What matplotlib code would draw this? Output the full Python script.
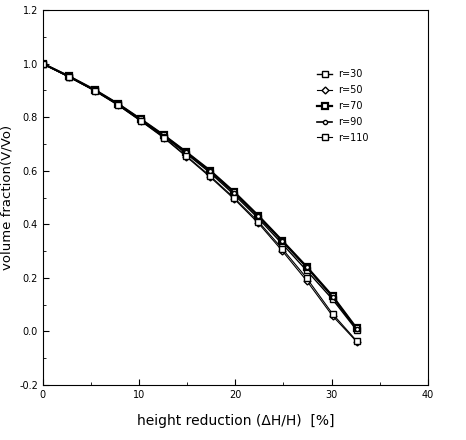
import matplotlib
matplotlib.use("Agg")
import matplotlib.pyplot as plt
from matplotlib.ticker import MultipleLocator, FuncFormatter

# height reduction (%) and volume fraction for each r
reduction = [0, 2.7, 5.4, 7.8, 10.2, 12.6, 14.9, 17.4, 19.9, 22.4, 24.9, 27.4, 30.1, 32.6]
r30 = [1.0, 0.952, 0.90, 0.848, 0.788, 0.728, 0.664, 0.592, 0.510, 0.422, 0.326, 0.228, 0.120, 0.005]
r50 = [1.0, 0.950, 0.898, 0.845, 0.785, 0.722, 0.653, 0.576, 0.494, 0.404, 0.300, 0.190, 0.058, -0.038]
r70 = [1.0, 0.953, 0.902, 0.850, 0.792, 0.732, 0.670, 0.600, 0.520, 0.432, 0.338, 0.242, 0.132, 0.012]
r90 = [1.0, 0.953, 0.901, 0.850, 0.791, 0.731, 0.669, 0.598, 0.518, 0.430, 0.336, 0.240, 0.130, 0.010]
r110 = [1.0, 0.951, 0.899, 0.846, 0.786, 0.724, 0.656, 0.580, 0.498, 0.410, 0.308, 0.200, 0.066, -0.035]
labels = ["r=30", "r=50", "r=70", "r=90", "r=110"]

fig = plt.figure(figsize=(4.66, 4.4), dpi=100)
ax = fig.add_axes([0.092, 0.125, 0.826, 0.852])

styles = [
    dict(marker="s", ms=4.5, mfc="white", lw=1.0),
    dict(marker="D", ms=3.5, mfc="white", lw=0.8),
    dict(marker="s", ms=4.5, mfc="white", mew=1.6, lw=1.6),
    dict(marker="o", ms=3, mfc="white", lw=1.2),
    dict(marker="s", ms=4.5, mfc="white", lw=0.8),
]
for ys, lab, st in zip([r30, r50, r70, r90, r110], labels, styles):
    ax.plot(reduction, ys, color="black", mec="black", label=lab, **st)

ax.set_xlim(0, 40)
ax.set_ylim(-0.2, 1.2)
ax.xaxis.set_major_locator(MultipleLocator(10))
ax.xaxis.set_minor_locator(MultipleLocator(5))
ax.yaxis.set_major_locator(MultipleLocator(0.2))
ax.yaxis.set_minor_locator(MultipleLocator(0.1))
ax.tick_params(which="both", direction="in", labelsize=7)
ax.tick_params(which="major", length=4)
ax.tick_params(which="minor", length=2)
ax.xaxis.set_major_formatter(FuncFormatter(lambda v, p: f"{v:.0f}"))
ax.yaxis.set_major_formatter(FuncFormatter(lambda v, p: f"{v:.1f}"))

ax.set_xlabel("height reduction (\u0394H/H)  [%]", fontsize=10, labelpad=10)
ax.set_ylabel("volume fraction(V/Vo)", fontsize=9.5, labelpad=4)

ax.legend(loc="upper left", bbox_to_anchor=(0.69, 0.865), frameon=False,
          fontsize=7, handlelength=1.5, labelspacing=0.6, handletextpad=0.6)

fig.savefig("out.png", dpi=100)
